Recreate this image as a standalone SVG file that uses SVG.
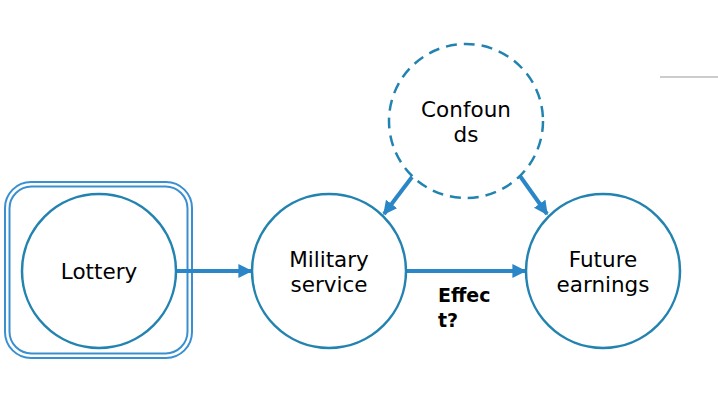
<svg xmlns="http://www.w3.org/2000/svg" width="718" height="407" viewBox="0 0 718 407">
<style>
.node{fill:#fff;stroke:#2383b0;stroke-width:2.5}
.dash{stroke-dasharray:11 7}
.lbl{font-family:"DejaVu Sans",sans-serif;font-size:21.5px;fill:#000;text-anchor:middle}
.edge{stroke:#2b86c8;stroke-width:4;fill:none;marker-end:url(#ah)}
.frame{fill:none;stroke:#3a8fd0;stroke-width:2}
.eff{font-family:"DejaVu Sans",sans-serif;font-size:19px;font-weight:bold;fill:#000}
</style>
<defs>
<marker id="ah" viewBox="0 0 10 10" refX="9" refY="5" markerWidth="3.5" markerHeight="3.5" orient="auto" markerUnits="strokeWidth">
<path d="M0,0 L10,5 L0,10 z" fill="#2b86c8"/>
</marker>
</defs>
<rect x="0" y="0" width="718" height="407" fill="#fff"/>
<line x1="660" y1="77" x2="718" y2="77" stroke="#999" stroke-width="1.2"/>
<g id="frame">
<rect class="frame" x="5" y="182" width="187" height="176" rx="26"/>
<rect class="frame" x="9.5" y="186.5" width="178" height="167" rx="22"/>
</g>
<g id="connectors">
<line class="edge" x1="177" y1="271" x2="251" y2="271"/>
<line class="edge" x1="407" y1="271" x2="525" y2="271"/>
<line class="edge" x1="412" y1="177" x2="384" y2="214"/>
<line class="edge" x1="520" y1="176" x2="547" y2="214"/>
</g>
<g id="lottery">
<circle class="node" cx="99" cy="271" r="77"/>
<text class="lbl" x="99" y="279">Lottery</text>
</g>
<g id="military">
<circle class="node" cx="329" cy="271" r="77"/>
<text class="lbl" x="329" y="267">Military</text>
<text class="lbl" x="329" y="292">service</text>
</g>
<g id="future">
<circle class="node" cx="603" cy="271" r="77"/>
<text class="lbl" x="603" y="267">Future</text>
<text class="lbl" x="603" y="292">earnings</text>
</g>
<g id="confounds">
<circle class="node dash" cx="466" cy="121" r="77"/>
<text class="lbl" x="466" y="117">Confoun</text>
<text class="lbl" x="466" y="142">ds</text>
</g>
<g id="effect-label">
<text class="eff" x="438" y="302">Effec</text>
<text class="eff" x="438" y="327">t?</text>
</g>
</svg>
